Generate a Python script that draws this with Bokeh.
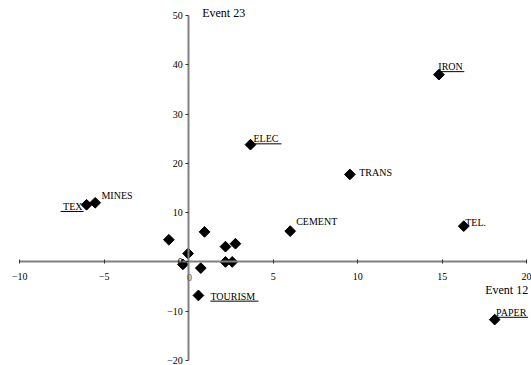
from bokeh.plotting import figure
from bokeh.models import Range1d, FixedTicker, ColumnDataSource, AllLabels
from bokeh.core.properties import value
from bokeh.embed import file_html
from bokeh.resources import INLINE

# ---- data ----
sectors = ["ELEC", "IRON", "TRANS", "TEX", "MINES", "CEMENT", "TEL.", "PAPER", "TOURISM",
           "", "", "", "", "", "", "", "", ""]
event12 = [3.65, 14.8, 9.53, -6.05, -5.54, 6.0, 16.27, 18.1, 0.57,
           -1.18, 0.93, -0.04, -0.35, 0.71, 2.17, 2.76, 2.17, 2.57]
event23 = [23.8, 38.0, 17.75, 11.6, 12.0, 6.25, 7.26, -11.7, -6.8,
           4.5, 6.1, 1.7, -0.5, -1.25, 3.1, 3.7, 0.0, 0.0]
x_ticks = [-10, -5, 0, 5, 10, 15, 20]
y_ticks = [-20, -10, 0, 10, 20, 30, 40, 50]
x_title = "Event 12"
y_title = "Event 23"

# ---- label layout (screen px offsets relative to point; y down-positive) ----
# name: (dx, dy_center, align, underline (x from, x to, dy) or None)
label_style = {
    "ELEC": (3, -6.3, "left", (3, 31, -0.8)),
    "IRON": (-0.6, -8, "left", (-0.6, 25.4, -3)),
    "TRANS": (9.4, -2.3, "left", None),
    "TEX": (-4, 1.4, "right", (-26, -3, 6.7)),
    "MINES": (6.3, -7.3, "left", None),
    "TOURISM": (12, 1.3, "left", (12, 60, 5.7)),
    "CEMENT": (6, -9.4, "left", None),
    "TEL.": (1.4, -4, "left", None),
    "PAPER": (1.4, -7.3, "left", (1.4, 33.4, -2.3)),
}

W, H = 531, 365
XB, YB = (x_ticks[0], x_ticks[-1]), (y_ticks[0], y_ticks[-1])
x_px = (19.3, 526.3)   # canvas x of XB[0], XB[1]
y_px = (360.0, 15.0)   # canvas y of YB[0], YB[1]
sx = (x_px[1] - x_px[0]) / (XB[1] - XB[0])
sy = (y_px[0] - y_px[1]) / (YB[1] - YB[0])
x_range = Range1d(XB[0] - x_px[0] / sx, XB[1] + (W - x_px[1]) / sx)
y_range = Range1d(YB[0] - (H - y_px[0]) / sy, YB[1] + y_px[1] / sy)

p = figure(frame_width=W, frame_height=H, x_range=x_range, y_range=y_range,
           output_backend="svg", toolbar_location=None,
           min_border_left=0, min_border_right=0, min_border_top=0, min_border_bottom=0)
p.grid.visible = False
p.outline_line_color = None
p.background_fill_color = "white"

for ax in (p.xaxis, p.yaxis):
    ax.fixed_location = 0
    ax.axis_line_color = "#808080"
    ax.axis_line_width = 2
    ax.major_tick_line_color = "#333333"
    ax.minor_tick_line_color = None
    ax.major_label_text_font = "Liberation Serif"
    ax.major_label_text_font_size = "10px"
    ax.major_label_text_color = "black"
    ax.major_label_policy = AllLabels()
p.xaxis.ticker = FixedTicker(ticks=x_ticks)
p.yaxis.ticker = FixedTicker(ticks=y_ticks)
p.xaxis.bounds = XB
p.yaxis.bounds = YB
p.xaxis.major_tick_in = 2
p.xaxis.major_tick_out = 2
p.xaxis.major_label_standoff = 9
p.yaxis.major_tick_in = 0
p.yaxis.major_tick_out = 3
p.yaxis.major_label_standoff = 3
# the x-axis "0" label is drawn separately, on top of the vertical axis line
p.xaxis.major_label_overrides = {0: ""}

src = ColumnDataSource(dict(x=event12, y=event23))
p.scatter("x", "y", source=src, marker="square", angle=0.785398, size=7.6,
          fill_color="black", line_color="black")

for align in ("left", "right"):
    xs, ys, ts, dxs, dys = [], [], [], [], []
    for name, x, y in zip(sectors, event12, event23):
        if name and label_style[name][2] == align:
            dx, dy, _, _ = label_style[name]
            xs.append(x); ys.append(y); ts.append(name); dxs.append(dx); dys.append(dy)
    p.text(x=xs, y=ys, text=ts, x_offset=dxs, y_offset=dys, text_align=align,
           text_baseline="middle", text_font=value("Liberation Serif"),
           text_font_size="10px", text_color="black")

ux0, ux1, uy = [], [], []
for name, x, y in zip(sectors, event12, event23):
    if name and label_style[name][3] is not None:
        a, b, dy = label_style[name][3]
        ux0.append(x + a / sx); ux1.append(x + b / sx); uy.append(y - dy / sy)
p.segment(x0=ux0, y0=uy, x1=ux1, y1=uy, line_color="black", line_width=1)

zero = p.text(x=[0], y=[0], text=["0"], x_offset=0.7, y_offset=15.6, text_align="center",
              text_baseline="middle", text_font=value("Liberation Serif"),
              text_font_size="10px", text_color="#555555")
zero.level = "overlay"

p.text(x=[0], y=[YB[1]], text=[y_title], x_offset=13.4, y_offset=-3, text_align="left",
       text_baseline="middle", text_font=value("Liberation Serif"), text_font_size="12px",
       text_color="black")
p.text(x=[XB[1]], y=[0], text=[x_title], x_offset=1.4, y_offset=27.6, text_align="right",
       text_baseline="middle", text_font=value("Liberation Serif"), text_font_size="12px",
       text_color="black")

open("out.html", "w").write(file_html(p, INLINE))
